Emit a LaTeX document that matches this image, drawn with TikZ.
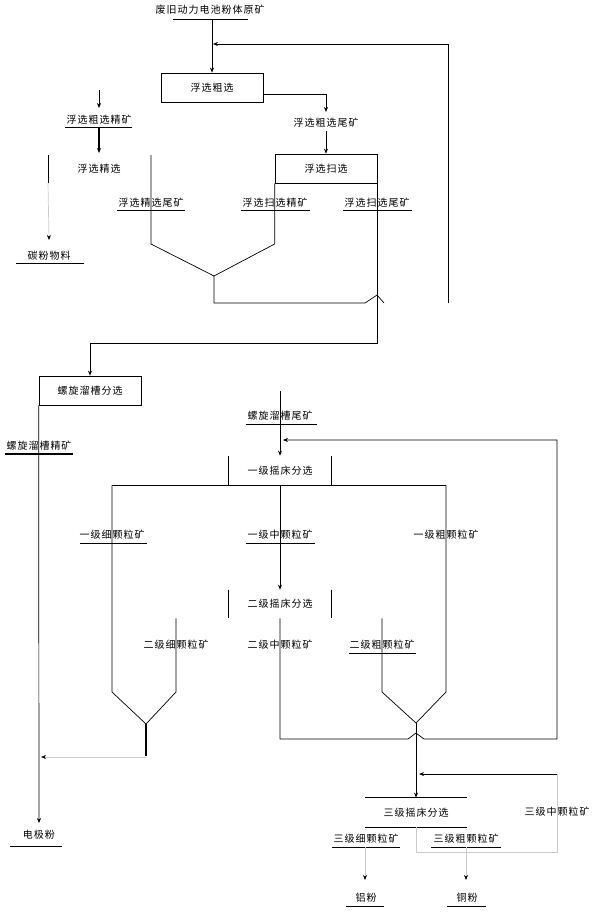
\documentclass[tikz,border=0pt]{standalone}
\usepackage{fontspec}
\setmainfont{Noto Sans CJK SC}[LetterSpace=10]
\usetikzlibrary{positioning,calc,arrows.meta}

\begin{document}
\begin{tikzpicture}[x=1pt,y=-1pt,line width=0.7pt,
  >={Stealth[length=5pt,width=4pt]},
  every node/.style={font=\fontsize{10}{12}\selectfont,inner sep=0pt},
  box/.style={draw,minimum width=102pt,minimum height=29pt},
  fl/.style={draw=black!20},
  fa/.style={draw=black!20,-{Stealth[length=5pt,width=4pt,color=black]}}]
\useasboundingbox (0,0) rectangle (599,913);
% flotation
\node (Yk) at (210,10) {废旧动力电池粉体原矿};
\node [box] (Cx) at (212,87.5) {浮选粗选};
\node (CxW) at (326,123) {浮选粗选尾矿};
\node [box] (Sx) at (326,168.5) {浮选扫选};
\node (CxJ) at (99,120) {浮选粗选精矿};
\node (Jx) at (99,169) {浮选精选};
\node (Tf) at (49,256) {碳粉物料};
\node (JxW) at (151,203) {浮选精选尾矿};
\node (SxJ) at (275,203) {浮选扫选精矿};
\node (SxW) at (377,203) {浮选扫选尾矿};
\coordinate (Lin) at (99,90);
\coordinate (Vl) at (151,244);
\coordinate (Vm) at (214,276);
\coordinate (Ru) at (448,303);
\coordinate (Rin) at (213,44);
\draw ($(Yk)+(-37,9)$) -- ($(Yk)+(38,9)$);
\draw ($(CxJ)+(-34,7)$) -- ($(CxJ)+(33,7)$);
\draw ($(Tf)+(-33,7)$) -- ($(Tf)+(35,7)$);
\draw ($(JxW)+(-34,7)$) -- ($(JxW)+(34,7)$);
\draw ($(SxJ)+(-34,7)$) -- ($(SxJ)+(35,7)$);
\draw ($(SxW)+(-34,7)$) -- ($(SxW)+(35,7)$);
\draw [->] (Cx.north |- 0,19) -- (Cx.north);
\draw [->] (Ru) -- (Ru |- Rin) -- (Rin);
\draw [->] ($(Cx.east)+(0,6.5)$) -| ($(CxW.north)+(0,-6)$);
\draw [->] ($(CxW)+(0,8)$) -- (Sx.north);
\draw [->] (Lin) -- ($(CxJ)+(0,-12)$);
\draw [->,line width=1.4pt] ($(CxJ)+(0,7)$) -- ($(Jx)+(0,-16)$);
\draw ($(Jx)+(-51,-14)$) -- ($(Jx)+(-51,14)$);
\draw [fa] ($(Jx)+(-51,14)$) -- ($(Tf)+(0,-16)$);
\draw (Vl |- 0,155) -- (Vl) -- (Vm) -- (Sx.south west |- Vl) -- (Sx.south west);
\draw (Vm) -- (214,303) -- (365,303) -- (377,295) -- (384,303);
% spiral chute
\node [box] (Lc) at (90,390.5) {螺旋溜槽分选};
\node (LcJ) at (39,446) {螺旋溜槽精矿};
\node (LcW) at (280,416) {螺旋溜槽尾矿};
\node (Dj) at (39,835) {电极粉};
\draw [->] (Sx.south east) -- (Sx.south east |- 0,343) -| (Lc.north);
\draw [->] (Lc.south west) -- ($(Dj)+(0,-12)$);
\draw [line width=1.4pt] ($(LcJ)+(-34,8)$) -- ($(LcJ)+(34,8)$);
\draw ($(LcW)+(-34,8)$) -- ($(LcW)+(37,8)$);
\draw ($(Dj)+(-29,11)$) -- ($(Dj)+(23,11)$);
% shaking tables
\node [box,draw=none] (Y1) at (280,470.5) {一级摇床分选};
\node (Y1x) at (112,535) {一级细颗粒矿};
\node (Y1z) at (280,535) {一级中颗粒矿};
\node (Y1c) at (446,535) {一级粗颗粒矿};
\node [box,draw=none,minimum height=28pt] (Y2) at (280,604) {二级摇床分选};
\node (Y2x) at (176,645) {二级细颗粒矿};
\node (Y2z) at (280,645) {二级中颗粒矿};
\node (Y2c) at (382,645) {二级粗颗粒矿};
\node [box,draw=none,minimum width=101pt] (Y3) at (416,812.5) {三级摇床分选};
\node (Y3z) at (557,812) {三级中颗粒矿};
\node (Y3x) at (366,839) {三级细颗粒矿};
\node (Y3c) at (466,839) {三级粗颗粒矿};
\node (Lf) at (366,898) {铝粉};
\node (Tg) at (467,898) {铜粉};
\coordinate (Fl) at (146,724);
\coordinate (Fr) at (416,723);
\coordinate (Lp) at (557,739);
\coordinate (Rt) at (557,774);
\draw ($(Y1x)+(-32,8)$) -- ($(Y1x)+(35,8)$);
\draw ($(Y1z)+(-34,8)$) -- ($(Y1z)+(35,8)$);
\draw ($(Y2c)+(-33,8)$) -- ($(Y2c)+(34,8)$);
\draw ($(Y3x)+(-34,8)$) -- ($(Y3x)+(34,8)$);
\draw ($(Y3c)+(-35,8)$) -- ($(Y3c)+(35,8)$);
\draw ($(Lf)+(-20,8)$) -- ($(Lf)+(18,8)$);
\draw ($(Tg)+(-20,8)$) -- ($(Tg)+(19,8)$);
\draw [->] ($(LcW)+(0,-25)$) -- (Y1.north);
\draw (Y1.north west) -- (Y1.south west) (Y1.north east) -- (Y1.south east);
\draw (Y2.north west) -- (Y2.south west) (Y2.north east) -- (Y2.south east);
\draw (Y1x |- Y1.south) -- (Y1c |- Y1.south);
\draw [->] (Y1.south) -- (Y2.north);
\draw (Y1x |- Y1.south) -- (Y1x |- 0,692) -- (Fl) -- (Y2x |- 0,692) -- (Y2x |- Y2.south);
\draw [line width=1.6pt] (Fl) -- ($(Fl)+(0,32)$);
\draw [fa] ($(Fl)+(0,33)$) -- ($(Dj)+(2,-78)$);
\draw (Y2c |- Y2.south) -- (Y2c |- 0,692) -- (Fr) -- (Y1c |- 0,692) -- (Y1c |- Y1.south);
\draw [->] (Y2.south) -- (Y2.south |- Lp) -- (408,739) -- (416,733) -- (424,739) -- (Lp)
  -- (Lp |- 0,440) -- (283,440);
\draw [->] (Fr) -- (Y3.north);
\draw (Y3.north west) -- (Y3.north east) (Y3.south west) -- (Y3.south east);
\draw [->] (Rt) -- (419,774);
\draw [fl] (Y3.south) -- (416,852) -- (557,852) -- (Rt);
\draw [fa] ($(Y3x)+(-1,8)$) -- ($(Lf)+(-1,-18)$);
\draw [fa] ($(Y3c)+(0,8)$) -- ($(Tg)+(-1,-18)$);
\end{tikzpicture}
\end{document}
